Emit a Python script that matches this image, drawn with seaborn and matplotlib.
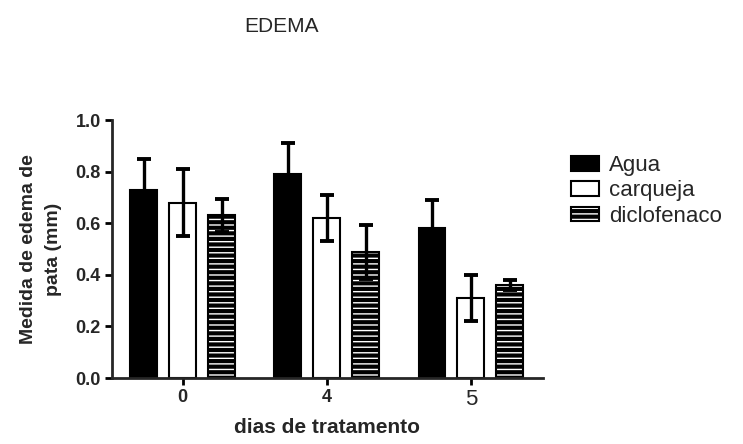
import numpy as np
import pandas as pd
import matplotlib
matplotlib.use('Agg')
import matplotlib.pyplot as plt
import matplotlib.colors as mcolors
import seaborn as sns

# valores
dias = ['0', '4', '5']
grupos = ['Agua', 'carqueja', 'diclofenaco']
agua_media = [0.73, 0.79, 0.58]
agua_erro = [0.12, 0.12, 0.11]
carqueja_media = [0.68, 0.62, 0.31]
carqueja_erro = [0.13, 0.09, 0.09]
diclo_media = [0.63, 0.49, 0.36]
diclo_erro = [0.065, 0.105, 0.02]

medias = [agua_media, carqueja_media, diclo_media]
erros = [agua_erro, carqueja_erro, diclo_erro]

df = pd.DataFrame({
    'dia': dias * 3,
    'grupo': np.repeat(grupos, 3),
    'media': agua_media + carqueja_media + diclo_media,
})

sns.set_style('ticks')
plt.rcParams['font.family'] = ['Liberation Sans', 'DejaVu Sans']
plt.rcParams['hatch.linewidth'] = 1.0

fig, ax = plt.subplots(figsize=(7.43, 4.44), dpi=100)
fig.subplots_adjust(left=0.1507, right=0.7308, bottom=0.1486, top=0.7297)

sns.barplot(data=df, x='dia', y='media', hue='grupo', order=dias, hue_order=grupos,
            palette=['black', 'white', 'black'], width=0.81, gap=0.31,
            edgecolor='black', linewidth=1.5, errorbar=None, legend=False, ax=ax)

bar_conts = list(ax.containers)

# estilo de cada serie + barras de erro
for i, cont in enumerate(bar_conts):
    xs = []
    for bar in cont.patches:
        bar.set_edgecolor('black')
        if grupos[i] == 'diclofenaco':
            bar.set_hatch('---')
            bar._hatch_color = mcolors.to_rgba('white')
        xs.append(bar.get_x() + bar.get_width() / 2)
    ax.errorbar(xs, medias[i], yerr=erros[i], fmt='none', ecolor='black',
                elinewidth=2.4, capsize=5, capthick=2.8, zorder=5)

ax.set_xlim(-0.49, 2.5)
ax.set_ylim(0, 1.0)
ax.set_yticks([0.0, 0.2, 0.4, 0.6, 0.8, 1.0])
ax.set_yticklabels(['0.0', '0.2', '0.4', '0.6', '0.8', '1.0'], fontweight='bold', fontsize=13)
for t in ax.get_xticklabels():
    if t.get_text() == '5':
        t.set_fontsize(16)
    else:
        t.set_fontsize(13)
        t.set_fontweight('bold')

sns.despine(ax=ax)
for s in ['left', 'bottom']:
    ax.spines[s].set_linewidth(2)
ax.tick_params(width=2, length=5, color='black', pad=3)

ax.set_xlabel('dias de tratamento', fontweight='bold', fontsize=15, labelpad=6)
ax.set_ylabel('Medida de edema de\npata (mm)', fontweight='bold', fontsize=14,
              labelpad=10, linespacing=1.6)

handles = [c.patches[0] for c in bar_conts]
ax.legend(handles, grupos, loc='upper left', bbox_to_anchor=(571 / 743, 1 - 155 / 444),
          bbox_transform=fig.transFigure, frameon=False, fontsize=16,
          handlelength=1.25, handleheight=0.65, handletextpad=0.45, labelspacing=0.2,
          borderaxespad=0, borderpad=0)

fig.text(282 / 743, 1 - 27 / 444, 'EDEMA', ha='center', va='center', fontsize=15)

fig.savefig('out.png', dpi=100)
